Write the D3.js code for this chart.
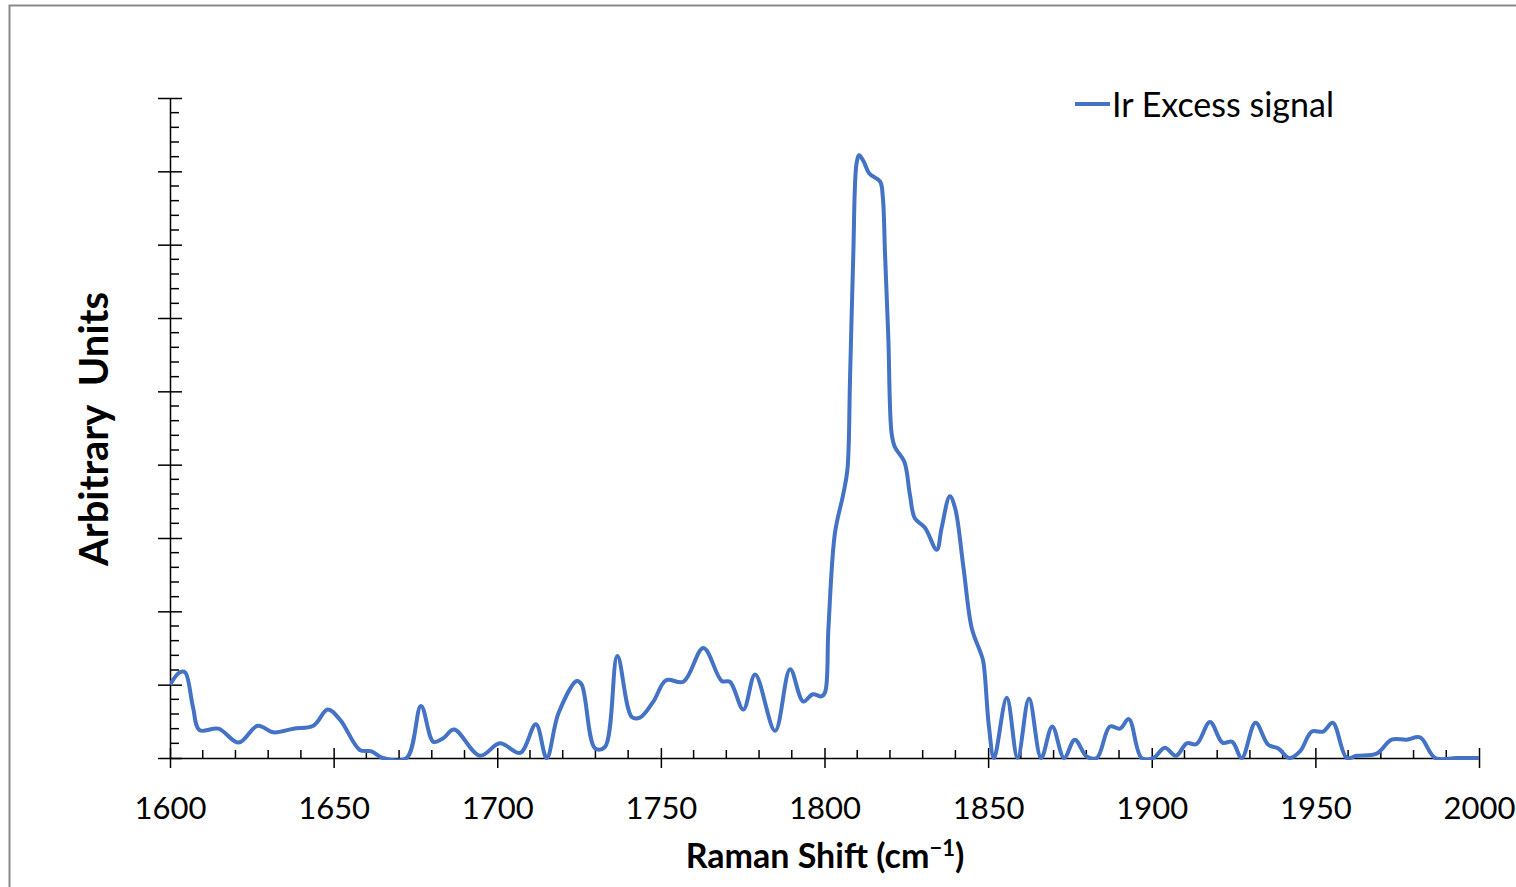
<!DOCTYPE html>
<html>
<head>
<meta charset="utf-8">
<script src="https://cdn.jsdelivr.net/npm/d3@7"></script>
<style>
  html, body { margin: 0; padding: 0; background: #fff; }
  svg { display: block; }
</style>
</head>
<body>
<svg id="chart" width="1516" height="887"></svg>
<script>
// Raman shift (cm-1) and the excess-signal intensity (arbitrary units)
const shift = [
  1600, 1603, 1604.6, 1607, 1609, 1614.8, 1621, 1626.8, 1631.6, 1637.7, 1643.8, 1648.2, 1652, 1658, 1661.6, 1665,
  1672.3, 1676.7, 1680.5, 1683.5, 1686.8, 1694.7, 1700.8, 1707, 1711.8, 1715.1,
  1718.7, 1724.3, 1725.8, 1729.9, 1732.9, 1736.7, 1741.1, 1743.6, 1747.7, 1751.6, 1756.9, 1763, 1768.6, 1771.1,
  1775.2, 1778.8, 1784.9, 1789.5, 1793.5, 1796.4, 1799.1, 1800.2, 1801.2, 1803.2, 1805.7, 1807, 1807.8, 1808.8,
  1809.8, 1810.6, 1811.9, 1813.7, 1817, 1817.8, 1818.5, 1819.5, 1820.5, 1821.5, 1824.4, 1826.1, 1827.6, 1830.7,
  1834.3, 1835.8, 1838.3, 1839.9, 1842.4, 1845, 1847.5, 1848.5, 1850.2, 1851.8,
  1855.7, 1859, 1862.5, 1866.2, 1869.6, 1873.2, 1876.5, 1880.1, 1883.2, 1887.2, 1890.3, 1893, 1896.9, 1900.5,
  1904, 1907.4, 1910.7, 1913.7, 1917.8, 1921.6, 1924.6, 1927.5, 1931.7, 1935.6, 1938.7, 1942, 1945.3, 1948.9,
  1952.4, 1955.3, 1959.6, 1962.6, 1968.7, 1973.3, 1977.9, 1982, 1986.6, 1993, 2000
];
const intensity = [
  1.0, 1.17, 1.17, 0.7, 0.38, 0.4, 0.21, 0.44, 0.35, 0.4, 0.44, 0.66, 0.52, 0.11, 0.09, 0,
  0, 0.71, 0.22, 0.27, 0.39, 0.03, 0.2, 0.07, 0.46, 0,
  0.61, 1.05, 1.0, 0.13, 0.15, 1.39, 0.56, 0.55, 0.77, 1.06, 1.04, 1.5, 1.05, 1.04,
  0.66, 1.14, 0.37, 1.21, 0.77, 0.87, 0.84, 0.9, 1.77, 3.07, 3.59, 3.93, 5.17, 6.87,
  8.11, 8.22, 8.14, 7.97, 7.86, 7.66, 6.87, 5.73, 4.43, 4.24, 4.04, 3.59, 3.27, 3.14,
  2.84, 3.14, 3.57, 3.41, 2.62, 1.77, 1.46, 1.32, 0.45, 0,
  0.82, 0, 0.81, 0, 0.43, 0, 0.25, 0.02, 0, 0.43, 0.4, 0.53, 0, 0,
  0.14, 0.03, 0.2, 0.19, 0.49, 0.21, 0.22, 0, 0.48, 0.18, 0.13, 0, 0.09, 0.36,
  0.36, 0.48, 0, 0.03, 0.06, 0.25, 0.25, 0.28, 0, 0, 0
];
const xTicks = [1600, 1650, 1700, 1750, 1800, 1850, 1900, 1950, 2000];
const seriesName = "Ir Excess signal";

const svg = d3.select("#chart");
const W = 1516, H = 887;

// chart-area frame
svg.append("rect")
  .attr("x", 9.5).attr("y", 5.5)
  .attr("width", W + 10).attr("height", H + 10)
  .attr("fill", "#fff").attr("stroke", "#898989").attr("stroke-width", 2);

const plot = { left: 170, right: 1479, top: 98, bottom: 758 };
const x = d3.scaleLinear().domain([1600, 2000]).range([plot.left, plot.right]);
const y = d3.scaleLinear().domain([0, 9]).range([plot.bottom, plot.top]);

const font = "Lato, 'Open Sans', sans-serif";

// minor ticks, x axis (pointing up into the plot)
const xMinor = d3.range(1600, 2000.1, 10).filter(v => v % 50 !== 0);
svg.append("g").selectAll("line").data(xMinor).join("line")
  .attr("x1", d => x(d)).attr("x2", d => x(d))
  .attr("y1", plot.bottom).attr("y2", plot.bottom - 8)
  .attr("stroke", "#000").attr("stroke-width", 1.5);

// x axis with crossing major ticks
const xAxis = svg.append("g").attr("transform", `translate(0,${plot.bottom})`)
  .call(d3.axisBottom(x).tickValues(xTicks).tickSize(10).tickSizeOuter(0).tickFormat(d3.format("d")));
xAxis.select(".domain").attr("stroke", "#000").attr("stroke-width", 1.5);
xAxis.selectAll(".tick line").attr("y1", -10).attr("y2", 10)
  .attr("stroke", "#000").attr("stroke-width", 1.5);
xAxis.selectAll(".tick text")
  .attr("y", 61).attr("dy", 0)
  .attr("font-family", font).attr("font-size", 31).attr("fill", "#000");

// y axis: majors crossing, minors inside, no labels
const yMajor = d3.range(0, 9.01, 1);
const yMinor = d3.range(0, 9.01, 0.2).filter(v => Math.abs(v - Math.round(v)) > 1e-6);
const yAxis = svg.append("g").attr("transform", `translate(${plot.left},0)`)
  .call(d3.axisLeft(y).tickValues(yMajor).tickSize(12).tickSizeOuter(0).tickFormat(""));
yAxis.select(".domain").attr("stroke", "#000").attr("stroke-width", 1.5);
yAxis.selectAll(".tick line").attr("x1", -12).attr("x2", 12)
  .attr("stroke", "#000").attr("stroke-width", 1.5);
svg.append("g").selectAll("line").data(yMinor).join("line")
  .attr("x1", plot.left).attr("x2", plot.left + 9)
  .attr("y1", d => y(d)).attr("y2", d => y(d))
  .attr("stroke", "#000").attr("stroke-width", 1.5);

// series
svg.append("clipPath").attr("id", "plotClip")
  .append("rect").attr("x", plot.left).attr("y", plot.top - 10)
  .attr("width", plot.right - plot.left + 2).attr("height", plot.bottom - plot.top + 12);

const line = d3.line()
  .x((d, i) => x(shift[i]))
  .y(d => y(d))
  .curve(d3.curveCatmullRom.alpha(0.5));

svg.append("path")
  .datum(intensity)
  .attr("clip-path", "url(#plotClip)")
  .attr("d", line)
  .attr("fill", "none")
  .attr("stroke", "#4472C4")
  .attr("stroke-width", 4)
  .attr("stroke-linejoin", "round");

// axis titles
const xt = svg.append("text")
  .attr("x", 825).attr("y", 868)
  .attr("text-anchor", "middle")
  .attr("font-family", font).attr("font-weight", "bold").attr("font-size", 34).attr("fill", "#000");
xt.append("tspan").text("Raman Shift (cm");
xt.append("tspan").attr("dy", -12).attr("font-size", 22).text("\u22121");
xt.append("tspan").attr("dy", 12).text(")");

svg.append("text")
  .attr("transform", "translate(108,429) rotate(-90)")
  .attr("text-anchor", "middle")
  .attr("font-family", font).attr("font-weight", "bold").attr("font-size", 40).attr("fill", "#000")
  .attr("xml:space", "preserve")
  .style("white-space", "pre")
  .text("Arbitrary  Units");

// legend
const lg = svg.append("g");
lg.append("line")
  .attr("x1", 1075).attr("x2", 1110).attr("y1", 104).attr("y2", 104)
  .attr("stroke", "#4472C4").attr("stroke-width", 4);
lg.append("text")
  .attr("x", 1112).attr("y", 117)
  .attr("font-family", font).attr("font-size", 34).attr("fill", "#000")
  .text(seriesName);
</script>
</body>
</html>
